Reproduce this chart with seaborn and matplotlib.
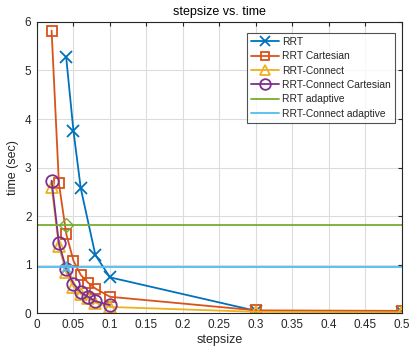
import matplotlib
matplotlib.use("Agg")
import matplotlib.pyplot as plt
import seaborn as sns
import pandas as pd

# step sizes tested per planner
rrt_step = [0.04, 0.05, 0.06, 0.08, 0.1, 0.3, 0.5]
rrt_time = [5.27, 3.75, 2.57, 1.20, 0.74, 0.05, 0.03]

cart_step = [0.02, 0.03, 0.04, 0.05, 0.06, 0.07, 0.08, 0.1, 0.3, 0.5]
cart_time = [5.82, 2.68, 1.64, 1.08, 0.79, 0.63, 0.51, 0.34, 0.06, 0.05]

conn_step = [0.02, 0.03, 0.04, 0.05, 0.06, 0.07, 0.08, 0.1, 0.3, 0.5]
conn_time = [2.61, 1.38, 0.84, 0.55, 0.40, 0.31, 0.22, 0.13, 0.03, 0.02]

conn_cart_step = [0.02, 0.03, 0.04, 0.05, 0.06, 0.07, 0.08, 0.1]
conn_cart_time = [2.73, 1.44, 0.92, 0.61, 0.43, 0.34, 0.25, 0.17]

# adaptive step size results
rrt_adaptive_step = 0.04
rrt_adaptive_time = 1.82
conn_adaptive_step = 0.04
conn_adaptive_time = 0.95

labels = ["RRT", "RRT Cartesian", "RRT-Connect", "RRT-Connect Cartesian",
          "RRT adaptive", "RRT-Connect adaptive"]
x_ticks = [0, 0.05, 0.1, 0.15, 0.2, 0.25, 0.3, 0.35, 0.4, 0.45, 0.5]
x_tick_labels = ["0", "0.05", "0.1", "0.15", "0.2", "0.25", "0.3", "0.35", "0.4", "0.45", "0.5"]
y_ticks = [0, 1, 2, 3, 4, 5, 6]

blue, orange, yellow = "#0072BD", "#D95319", "#EDB120"
purple, green, cyan = "#7E2F8E", "#77AC30", "#4DBEEE"

sns.set_style("white")
plt.rcParams["font.family"] = ["Liberation Sans", "DejaVu Sans"]

fig = plt.figure(figsize=(4.13, 3.53), dpi=100)
ax = fig.add_axes([0.0896, 0.1125, 0.8834, 0.8255])

series = [
    (rrt_step, rrt_time, labels[0], blue, "x", 8),
    (cart_step, cart_time, labels[1], orange, "s", 7),
    (conn_step, conn_time, labels[2], yellow, "^", 8),
    (conn_cart_step, conn_cart_time, labels[3], purple, "o", 9),
]
for xs, ys, lab, col, mk, ms in series:
    df = pd.DataFrame({"stepsize": xs, "time": ys})
    sns.lineplot(data=df, x="stepsize", y="time", ax=ax, color=col, marker=mk,
                 markersize=ms, markerfacecolor="none", markeredgecolor=col,
                 markeredgewidth=1.3, linewidth=1.3, label=lab, sort=False)

ax.axhline(rrt_adaptive_time, color=green, linewidth=1.3, label=labels[4])
ax.axhline(conn_adaptive_time, color=cyan, linewidth=1.3, label=labels[5])
ax.plot([rrt_adaptive_step], [rrt_adaptive_time], marker="D", color=green,
        markerfacecolor="none", markersize=7, markeredgewidth=1.0, linestyle="none",
        label="_nolegend_")
ax.plot([conn_adaptive_step], [conn_adaptive_time], marker="*", color=cyan,
        markerfacecolor="none", markersize=9, markeredgewidth=1.0, linestyle="none",
        label="_nolegend_")

ax.set_xlim(0, 0.5)
ax.set_ylim(0, 6)
ax.set_xticks(x_ticks)
ax.set_xticklabels(x_tick_labels)
ax.set_yticks(y_ticks)
ax.grid(True, color="#dcdcdc", linewidth=0.8)
ax.set_axisbelow(True)
ax.tick_params(direction="in", length=3, width=0.8, top=True, right=True,
               labelsize=8.5, colors="#262626", pad=4)
for sp in ax.spines.values():
    sp.set_color("#262626")
    sp.set_linewidth(0.8)

ax.set_title("stepsize vs. time", fontsize=9, color="#000000", pad=5)
ax.set_xlabel("stepsize", fontsize=9, color="#262626", labelpad=2)
ax.set_ylabel("time (sec)", fontsize=9, color="#262626", labelpad=4)

leg = ax.legend(loc="upper right", bbox_to_anchor=(0.981, 0.962), fontsize=7.4,
                frameon=True, fancybox=False, edgecolor="#262626",
                handlelength=2.7, handletextpad=0.3, labelspacing=0.42,
                borderpad=0.4, borderaxespad=0.0, markerscale=0.85)
leg.get_frame().set_linewidth(0.8)

fig.savefig("out.png", dpi=100)
